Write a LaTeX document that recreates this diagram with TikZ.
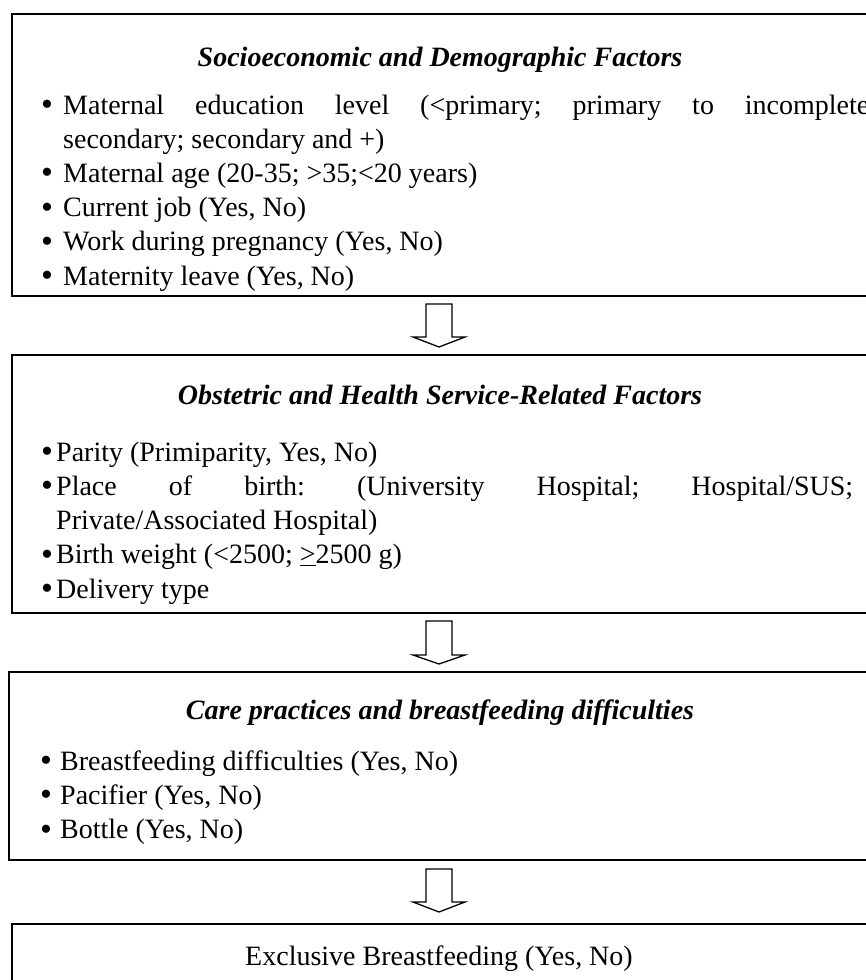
\documentclass[tikz,border=0pt]{standalone}
\usepackage{fontspec}
\setmainfont{Liberation Serif}
\frenchspacing
\begin{document}
\begin{tikzpicture}[x=1pt,y=-1pt,
  box/.style={draw, line width=1.8pt, rectangle, anchor=north west, inner sep=0pt},
  ttl/.style={anchor=base, inner sep=0pt, font=\fontsize{28}{34}\selectfont\bfseries\itshape},
  txt/.style={anchor=base west, inner sep=0pt, font=\fontsize{28}{34}\selectfont},
  ctr/.style={anchor=base, inner sep=0pt, font=\fontsize{28}{34}\selectfont},
  bul/.style={anchor=base, inner sep=0pt, yshift=-1.5pt, font=\fontsize{34}{34}\selectfont},
  blockarrow/.style={draw, line width=1.3pt, fill=white, line join=miter}]
\useasboundingbox (0,0) rectangle (866,980);
\clip (0,0) rectangle (866,980);

% boxes
\node[box, minimum width=880pt, minimum height=282pt] (b1) at (11,13) {};
\node[box, minimum width=880pt, minimum height=258pt] (b2) at (11,354) {};
\node[box, minimum width=883pt, minimum height=188pt] (b3) at (8,671) {};
\node[box, minimum width=880pt, minimum height=80pt] (b4) at (11,923) {};

% box 1
\node[ttl] (t1) at (440,66) {Socioeconomic and Demographic Factors};
\node[bul] (p11) at (47,114) {•};
\node[txt] (l11) at (63,114) {\makebox[806pt][s]{Maternal education level (<primary; primary to incomplete}};
\node[txt] (l12) at (63,148.2) {secondary; secondary and +)};
\node[bul] (p12) at (47,182.4) {•};
\node[txt] (l13) at (63,182.4) {Maternal age (20-35; >35;<20 years)};
\node[bul] (p13) at (47,216.6) {•};
\node[txt] (l14) at (63,216.6) {Current job (Yes, No)};
\node[bul] (p14) at (47,250.8) {•};
\node[txt] (l15) at (63,250.8) {Work during pregnancy (Yes, No)};
\node[bul] (p15) at (47,285) {•};
\node[txt] (l16) at (63,285) {Maternity leave (Yes, No)};

% box 2
\node[ttl] (t2) at (440,404) {Obstetric and Health Service-Related Factors};
\node[bul] (p21) at (47,461) {•};
\node[txt] (l21) at (56,461) {Parity (Primiparity, Yes, No)};
\node[bul] (p22) at (47,495.3) {•};
\node[txt] (l22) at (56,495.3) {\makebox[797pt][s]{Place of birth: (University Hospital; Hospital/SUS;}};
\node[txt] (l23) at (56,529.6) {Private/Associated Hospital)};
\node[bul] (p23) at (47,563.9) {•};
\node[txt] (l24) at (56,563.9) {Birth weight (<2500; \underline{>}2500 g)};
\node[bul] (p24) at (47,598.2) {•};
\node[txt] (l25) at (56,598.2) {Delivery type};

% box 3
\node[ttl] (t3) at (440,719) {Care practices and breastfeeding difficulties};
\node[bul] (p31) at (46,770) {•};
\node[txt] (l31) at (60,770) {Breastfeeding difficulties (Yes, No)};
\node[bul] (p32) at (46,804.4) {•};
\node[txt] (l32) at (60,804.4) {Pacifier (Yes, No)};
\node[bul] (p33) at (46,838.8) {•};
\node[txt] (l33) at (60,838.8) {Bottle (Yes, No)};

% box 4
\node[ctr] (t4) at (439,965) {Exclusive Breastfeeding (Yes, No)};

% block arrows
\draw[blockarrow] (426,304) -- (426,337) -- (413,337) -- (439,347) -- (465,337) -- (452,337) -- (452,304) -- cycle;
\draw[blockarrow] (426,621) -- (426,655) -- (413,655) -- (439,664) -- (465,655) -- (452,655) -- (452,621) -- cycle;
\draw[blockarrow] (426,869) -- (426,902) -- (413,902) -- (439,912) -- (465,902) -- (452,902) -- (452,869) -- cycle;
\end{tikzpicture}
\end{document}
